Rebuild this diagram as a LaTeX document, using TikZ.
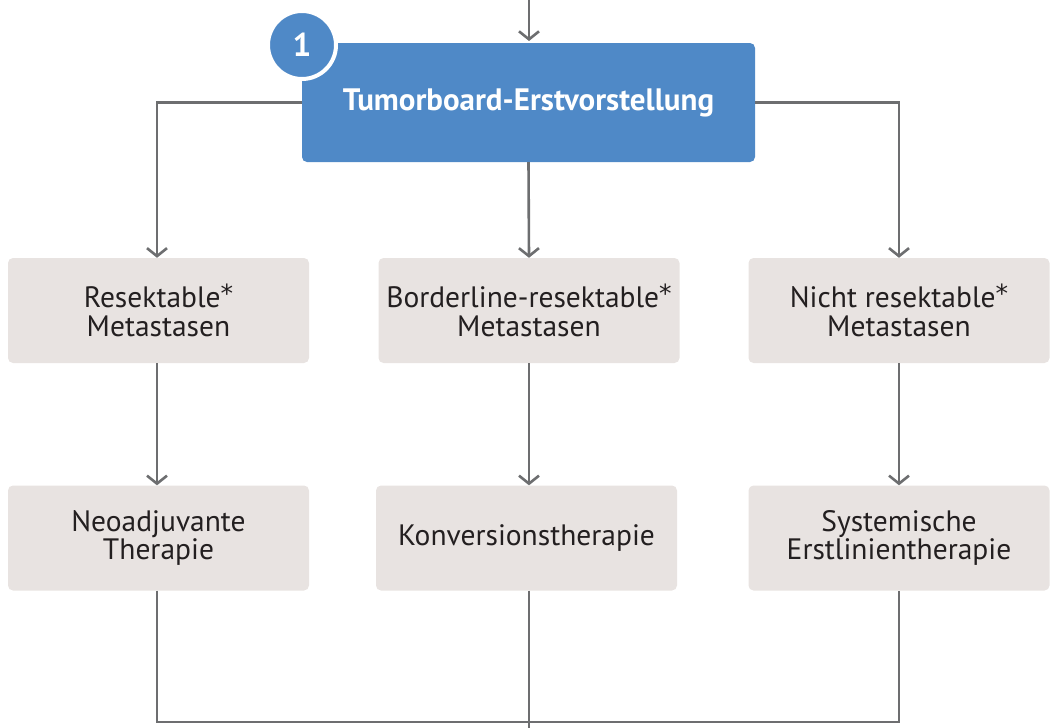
\documentclass[tikz,border=0pt]{standalone}
\usepackage{fontspec}
\setmainfont{PT Sans}
\newfontfamily\astfont{DejaVu Sans}
\newcommand{\myast}{{\astfont\fontsize{25}{28}\selectfont\raisebox{5pt}{*}}}
\usetikzlibrary{arrows.meta}
\definecolor{boxblue}{HTML}{4F89C7}
\definecolor{boxgray}{HTML}{E8E3E1}
\definecolor{linegray}{HTML}{6D6E70}
\definecolor{textdark}{HTML}{231F20}
\begin{document}
\begin{tikzpicture}[x=1pt,y=-1pt,
  conn/.style={draw=linegray,line width=2.6pt},
  arr/.style={conn,-{Straight Barb[length=8pt,width=20pt]}},
  graybox/.style={fill=boxgray,rounded corners=5pt,minimum width=301pt,minimum height=105pt,inner sep=0pt,
    align=center,text=textdark,font=\fontsize{29.5}{28.5}\selectfont},
  bluebox/.style={fill=boxblue,rounded corners=5pt,minimum width=453pt,minimum height=119pt,inner sep=0pt,
    text=white,font=\bfseries\fontsize{31}{34}\selectfont},
  badge/.style={circle,fill=boxblue,draw=white,line width=4pt,minimum size=68pt,inner sep=0pt,
    text=white,font=\bfseries\fontsize{33}{34}\selectfont}]
\useasboundingbox (0,0) rectangle (1052,728);
\node[bluebox] (top) at (528.5,102.5) {\raisebox{-2pt}{Tumorboard-Erstvorstellung}};
\node[badge] (one) at (302,45) {1};
\node[graybox] (r1) at (158.5,310.5) {Resektable\myast\\Metastasen};
\node[graybox] (b1) at (529,310.5) {Borderline-resektable\myast\\Metastasen};
\node[graybox] (n1) at (899,310.5) {Nicht resektable\myast\\Metastasen};
\node[graybox] (r2) at (158.5,538) {Neoadjuvante\\Therapie};
\node[graybox] (b2) at (526.5,538) {Konversionstherapie};
\node[graybox] (n2) at (899,538) {Systemische\\Erstlinientherapie};
\coordinate (in) at (529,0);
\coordinate (bl) at (157,722);
\coordinate (br) at (899,722);
\coordinate (out) at (529,728);
\draw[arr] (in) -- (529,41);
\draw[arr] (top.west) -| ([xshift=-1.5pt]r1.north);
\draw[arr] (top.east) -| (n1.north);
\draw[arr] (top.south) -- (b1.north);
\draw[arr] ([xshift=-1.5pt]r1.south) -- ([xshift=-1.5pt]r2.north);
\draw[arr] (b1.south) -- (b1.south |- b2.north);
\draw[arr] (n1.south) -- (n2.north);
\draw[conn] ([xshift=-1.5pt]r2.south) -- (bl) -- (br) -- (n2.south);
\draw[conn] (b2.south -| out) -- (out);
\end{tikzpicture}
\end{document}
